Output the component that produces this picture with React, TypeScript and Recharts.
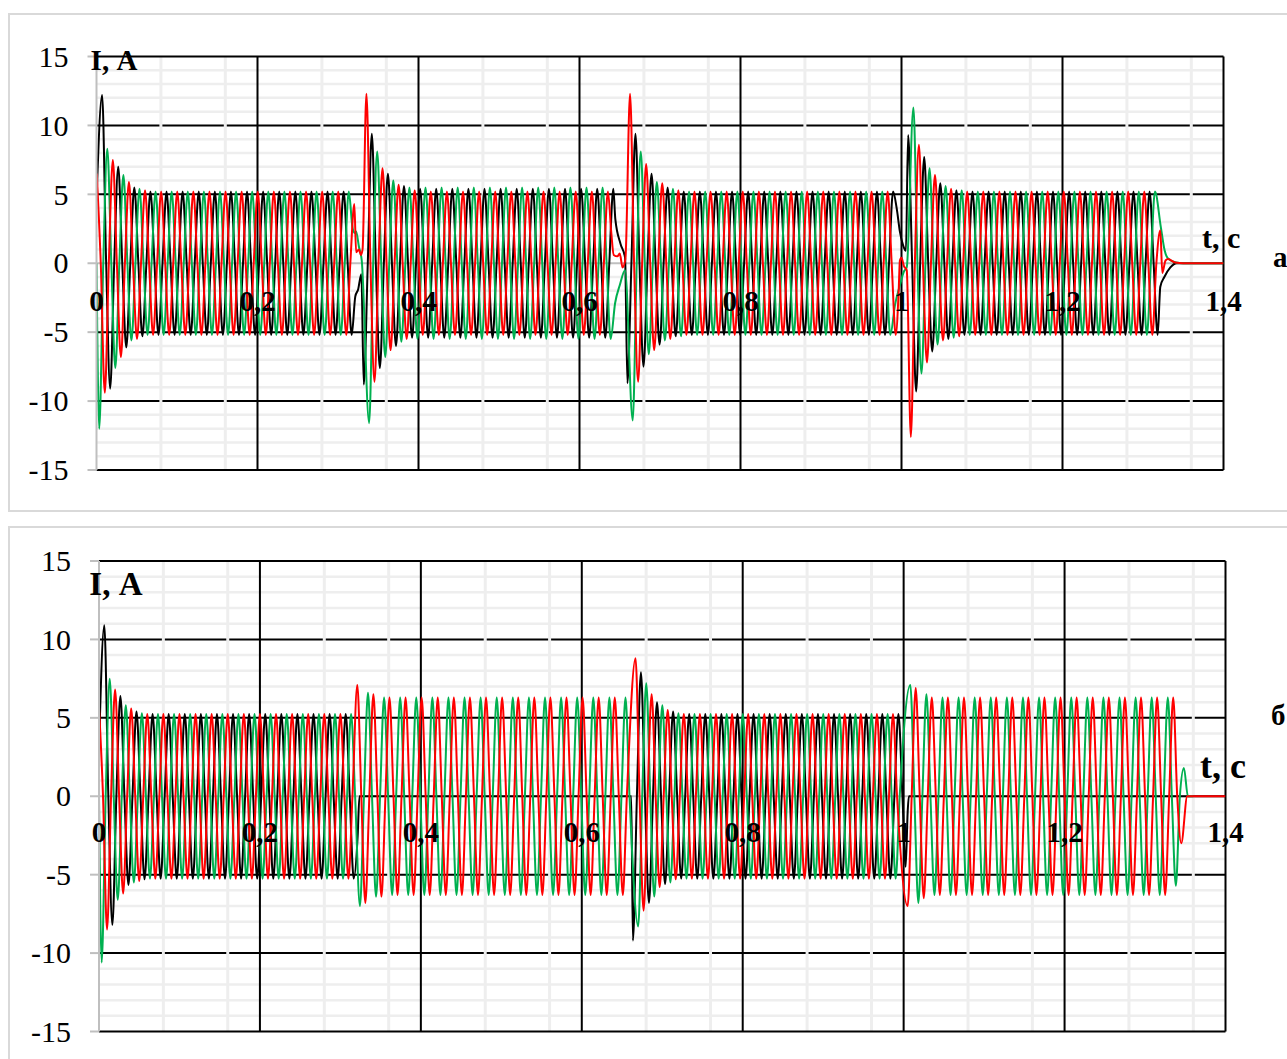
import { LineChart, Line, XAxis, YAxis, CartesianGrid, ReferenceDot } from 'recharts'

type Seg = { start: number; sign: 1 | -1; amps: number[]; to: number }
type Pt = [number, number]

const FONT = "'Liberation Serif', 'Times New Roman', serif"
const GRID_LIGHT = '#eeeeee'
const AXIS_GREY = '#bfbfbf'
const RED = '#ff0000'
const GREEN = '#00b050'
const HALF = 0.01 // half period of the 50 Hz current

// axis ticks / grid
const Y_TICKS = [-15, -10, -5, 0, 5, 10, 15]
const Y_MAJOR = [-10, -5, 5, 10]
const Y_BORDER = [-15, 15]
const Y_MINOR = [-14, -13, -12, -11, -9, -8, -7, -6, -4, -3, -2, -1, 1, 2, 3, 4, 6, 7, 8, 9, 11, 12, 13, 14]
const X_MAJOR = [0.2, 0.4, 0.6, 0.8, 1, 1.2, 1.4]
const X_MINOR = [
  0.04, 0.08, 0.12, 0.16, 0.24, 0.28, 0.32, 0.36, 0.44, 0.48, 0.52, 0.56, 0.64, 0.68,
  0.72, 0.76, 0.84, 0.88, 0.92, 0.96, 1.04, 1.08, 1.12, 1.16, 1.24, 1.28, 1.32, 1.36,
]
const X_LABEL_T = [0, 0.2, 0.4, 0.6, 0.8, 1, 1.2, 1.4]
const X_LABELS = ['0', '0,2', '0,4', '0,6', '0,8', '1', '1,2', '1,4']

// ---- panel а : half-cycle peak amplitudes (A) per segment, last value held ----
const A_BLACK_SEGS: Seg[] = [
  { start: 0.007, sign: 1, amps: [12.2, 9.1, 7.0, 6.1, 5.5, 5.3, 5.2], to: 0.318 },
  { start: 0.332, sign: -1, amps: [8.8, 9.4, 7.6, 6.5, 6.0, 5.6, 5.4], to: 0.6425 },
  { start: 0.6595, sign: -1, amps: [8.7, 9.4, 7.5, 6.5, 5.9, 5.5, 5.3, 5.2], to: 0.99 },
  { start: 1.0082, sign: 1, amps: [9.3, 9.3, 7.7, 6.4, 5.8, 5.5, 5.3, 5.2], to: 1.3185 },
]
const A_BLACK_PTS: Pt[] = [
  [0, 4.5], [0.3215, -2.4], [0.325, -1.9], [0.329, -0.8],
  [0.6445, 3.2], [0.651, 1.4], [0.6566, 0.4],
  [0.994, 4.0], [0.998, 2.3], [1.002, 1.3], [1.0055, 0.9],
  [1.3215, -1.7], [1.3265, -1.0], [1.334, -0.3], [1.342, 0], [1.4, 0],
]
const A_RED_SEGS: Seg[] = [
  { start: 0.0003, sign: 1, amps: [6.5, 9.4, 7.5, 6.8, 5.9, 5.5, 5.3, 5.2], to: 0.3155 },
  { start: 0.3353, sign: 1, amps: [12.3, 8.6, 6.9, 6.3, 5.7, 5.5, 5.3, 5.2], to: 0.6355 },
  { start: 0.6628, sign: 1, amps: [12.3, 8.6, 7.2, 6.3, 5.8, 5.5, 5.3, 5.2], to: 0.993 },
  { start: 1.0116, sign: -1, amps: [12.6, 8.6, 7.2, 6.4, 5.6, 5.4, 5.3, 5.2], to: 1.317 },
]
const A_RED_PTS: Pt[] = [
  [0.3203, 4.3], [0.3225, 0.8], [0.326, 1.0], [0.3285, 0.6], [0.3305, 1.0],
  [0.6395, 2.2], [0.6425, 0.6], [0.647, 0.5], [0.65, 0.7], [0.6535, -0.3], [0.657, 0.3],
  [0.9965, -2.0], [0.998, 0.2], [1.0, 0.4], [1.003, -0.2], [1.0065, -0.5],
  [1.3215, 2.4], [1.324, -0.7], [1.328, 0.2], [1.331, 0.3], [1.34, 0.05], [1.35, 0], [1.4, 0],
]
const A_GREEN_SEGS: Seg[] = [
  { start: 0.0034, sign: -1, amps: [12.0, 8.3, 7.6, 6.4, 5.6, 5.4, 5.2], to: 0.3135 },
  { start: 0.3387, sign: -1, amps: [11.6, 8.1, 6.8, 6.0, 5.7, 5.5], to: 0.639 },
  { start: 0.6661, sign: -1, amps: [11.4, 8.1, 6.6, 5.9, 5.6, 5.4, 5.3, 5.2], to: 0.9865 },
  { start: 1.0148, sign: 1, amps: [11.3, 8.0, 6.9, 5.9, 5.6, 5.4, 5.3, 5.2], to: 1.315 },
]
const A_GREEN_PTS: Pt[] = [
  [0, 0], [0.318, 2.6], [0.3205, 2.2], [0.3225, 2.3], [0.326, 1.2], [0.3295, 0.2],
  [0.6442, -2.9], [0.65, -1.6], [0.6566, -0.5],
  [0.992, -3.0], [0.998, -1.6], [1.003, -0.6], [1.0065, -0.3],
  [1.3222, 2.6], [1.327, 0.9], [1.331, 0.35], [1.341, 0.05], [1.35, 0], [1.4, 0],
]

// ---- panel б ----
const B_BLACK_SEGS: Seg[] = [
  { start: 0.0066, sign: 1, amps: [10.9, 8.2, 6.4, 5.65, 5.4, 5.3, 5.25], to: 0.317 },
  { start: 0.6635, sign: -1, amps: [9.2, 7.9, 6.8, 6.0, 5.6, 5.4, 5.25], to: 0.994 },
]
const B_BLACK_PTS: Pt[] = [
  [0, 3.0], [0.3215, -2.5], [0.3237, 0], [0.6615, 0],
  [0.9985, 0], [1.0025, -4.5], [1.005, -1.0], [1.0065, 0], [1.4, 0],
]
const B_RED_SEGS: Seg[] = [
  { start: 0, sign: 1, amps: [5.7, 8.5, 6.8, 6.2, 5.6, 5.4, 5.25], to: 0.3155 },
  { start: 0.321, sign: 1, amps: [7.1, 6.8, 6.5, 6.4, 6.3], to: 0.657 },
  { start: 0.6668, sign: 1, amps: [8.8, 7.3, 6.5, 5.8, 5.5, 5.3, 5.25], to: 0.992 },
  { start: 1.005, sign: -1, amps: [7.0, 6.9, 6.5, 6.3], to: 1.3355 },
]
const B_RED_PTS: Pt[] = [[1.34, 0], [1.345, -3.0], [1.3525, 0], [1.4, 0]]
const B_GREEN_SEGS: Seg[] = [
  { start: 0.0033, sign: -1, amps: [10.6, 7.5, 6.6, 5.8, 5.5, 5.3, 5.25], to: 0.3185 },
  { start: 0.3243, sign: -1, amps: [7.0, 6.6, 6.4, 6.3], to: 0.6595 },
  { start: 0.6701, sign: -1, amps: [8.3, 7.2, 6.4, 5.8, 5.5, 5.3, 5.25], to: 0.9955 },
  { start: 1.0083, sign: 1, amps: [7.1, 6.8, 6.5, 6.3], to: 1.3335 },
]
const B_GREEN_PTS: Pt[] = [[0, 0], [1.3383, -5.7], [1.3433, 0], [1.3483, 1.8], [1.3533, 0], [1.36, 0]]

// peaks alternate in sign every half period, with the zero crossing between them
function wave(segs: Seg[], pts: Pt[]) {
  const out = pts.map(([t, v]) => ({ t, v }))
  for (const s of segs) {
    for (let i = 0; ; i++) {
      const t = s.start + i * HALF
      if (t > s.to + 1e-9) break
      const a = s.amps[Math.min(i, s.amps.length - 1)]
      out.push({ t, v: (i % 2 === 0 ? s.sign : -s.sign) * a })
      if (t + HALF / 2 <= s.to + 1e-9) out.push({ t: t + HALF / 2, v: 0 })
    }
  }
  return out.sort((a, b) => a.t - b.t)
}

type PanelProps = {
  top: number
  height: number
  margin: { top: number; right: number; bottom: number; left: number }
  black: { t: number; v: number }[]
  red: { t: number; v: number }[]
  green: { t: number; v: number }[]
  tickV: number
  ia: [number, number]
  tc: [number, number]
  iaSize: number
  tcSize: number
}

const txt = (value: string, size: number) => ({
  value, position: 'center' as const, fill: '#000', fontSize: size, fontWeight: 700, fontFamily: FONT,
})

const YTick = (props: any) => {
  const { x, y, payload } = props
  return (
    <text x={x} y={y} dy="0.34em" textAnchor="end" fill="#000" fontSize={30} fontFamily={FONT}>
      {payload.value}
    </text>
  )
}

function Panel({ top, height, margin, black, red, green, tickV, ia, tc, iaSize, tcSize }: PanelProps) {
  return (
    <div style={{ position: 'absolute', left: 0, top, width: 1287, height }}>
      <LineChart width={1287} height={height} margin={margin}>
        <CartesianGrid vertical={false} horizontalValues={Y_MINOR} stroke={GRID_LIGHT} strokeWidth={2.5} />
        <CartesianGrid vertical={false} horizontalValues={Y_MAJOR} stroke="#000" strokeWidth={2} />
        <CartesianGrid vertical={false} horizontalValues={[0]} stroke={AXIS_GREY} strokeWidth={2} />
        <CartesianGrid horizontal={false} verticalValues={X_MINOR} stroke={GRID_LIGHT} strokeWidth={3} />
        <CartesianGrid vertical={false} horizontalValues={Y_BORDER} stroke="#000" strokeWidth={2} />
        <CartesianGrid horizontal={false} verticalValues={X_MAJOR} stroke="#000" strokeWidth={2} />
        <XAxis type="number" dataKey="t" domain={[0, 1.4]} hide allowDataOverflow />
        <YAxis
          type="number" domain={[-15, 15]} ticks={Y_TICKS} interval={0} width={60}
          tickSize={9} tickMargin={19}
          axisLine={{ stroke: AXIS_GREY, strokeWidth: 2 }}
          tickLine={{ stroke: AXIS_GREY, strokeWidth: 2 }}
          tick={<YTick />}
        />
        <Line data={black} dataKey="v" type="monotone" stroke="#000" strokeWidth={2}
          dot={false} activeDot={false} isAnimationActive={false} />
        <Line data={green} dataKey="v" type="monotone" stroke={GREEN} strokeWidth={2}
          dot={false} activeDot={false} isAnimationActive={false} />
        <Line data={red} dataKey="v" type="monotone" stroke={RED} strokeWidth={2}
          dot={false} activeDot={false} isAnimationActive={false} />
        {X_LABEL_T.map((x, i) => (
          <ReferenceDot key={x} x={x} y={tickV} r={0} fill="none" stroke="none"
            label={txt(X_LABELS[i], 29)} />
        ))}
        <ReferenceDot x={ia[0]} y={ia[1]} r={0} fill="none" stroke="none" label={txt('I, А', iaSize)} />
        <ReferenceDot x={tc[0]} y={tc[1]} r={0} fill="none" stroke="none" label={txt('t, с', tcSize)} />
      </LineChart>
    </div>
  )
}

export default function App() {
  return (
    <div style={{
      position: 'absolute', left: 0, top: 0, width: 1287, height: 1059,
      overflow: 'hidden', background: '#fff', fontFamily: FONT,
    }}>
      <div style={{ position: 'absolute', left: 8, top: 13, width: 1300, height: 499, border: '2px solid #d9d9d9', boxSizing: 'border-box' }} />
      <div style={{ position: 'absolute', left: 8, top: 526, width: 1300, height: 560, border: '2px solid #d9d9d9', boxSizing: 'border-box' }} />
      <Panel
        top={0} height={520}
        margin={{ top: 56.5, right: 63.5, bottom: 50, left: 36.5 }}
        black={wave(A_BLACK_SEGS, A_BLACK_PTS)}
        red={wave(A_RED_SEGS, A_RED_PTS)}
        green={wave(A_GREEN_SEGS, A_GREEN_PTS)}
        tickV={-2.7} ia={[0.0217, 14.8]} tc={[1.397, 1.86]} iaSize={29} tcSize={30}
      />
      <Panel
        top={500} height={559}
        margin={{ top: 61, right: 61.5, bottom: 27.5, left: 39 }}
        black={wave(B_BLACK_SEGS, B_BLACK_PTS)}
        red={wave(B_RED_SEGS, B_RED_PTS)}
        green={wave(B_GREEN_SEGS, B_GREEN_PTS)}
        tickV={-2.24} ia={[0.021, 13.55]} tc={[1.397, 1.99]} iaSize={33} tcSize={36}
      />
      <svg width={1287} height={1059} style={{ position: 'absolute', left: 0, top: 0, pointerEvents: 'none' }}>
        <text x={1273} y={267} fontFamily={FONT} fontWeight={700} fontSize={29} fill="#000">а</text>
        <text x={1271} y={725} fontFamily={FONT} fontWeight={700} fontSize={29} fill="#000">б</text>
      </svg>
    </div>
  )
}
